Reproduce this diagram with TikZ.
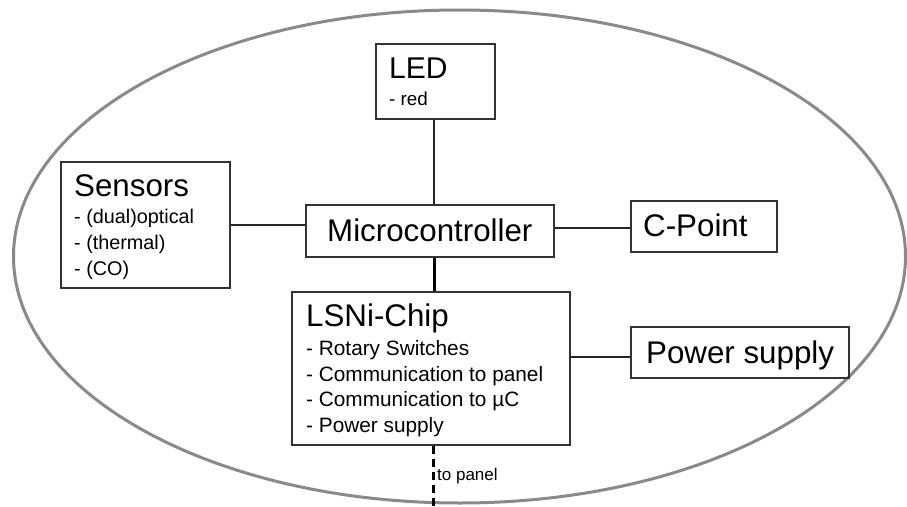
\documentclass[tikz,border=0pt]{standalone}
\usepackage{fontspec}
\setmainfont{Liberation Sans}
\usetikzlibrary{calc}
\definecolor{ringgray}{HTML}{8A8A8A}
\definecolor{boxline}{HTML}{333333}
\tikzset{
  box/.style={draw=boxline, line width=1.3pt, rectangle, inner sep=0pt},
  big/.style={anchor=base west, inner sep=0pt, font=\fontsize{31.3}{36}\selectfont},
  small/.style={anchor=base west, inner sep=0pt, font=\fontsize{20.8}{24}\selectfont},
  tiny/.style={anchor=base west, inner sep=0pt, font=\fontsize{17}{20}\selectfont},
  conn/.style={draw=black!85, line width=1.3pt},
  thickconn/.style={draw=black, line width=3pt},
  dashconn/.style={draw=black, line width=3pt, dash pattern=on 8pt off 5pt},
}
\begin{document}
\begin{tikzpicture}[x=1pt,y=-1pt]
\useasboundingbox[fill=white] (0,0) rectangle (907,506);
% enclosing ellipse
\draw[ringgray, line width=3pt] (459.5,256.5) ellipse [x radius=446pt, y radius=246.5pt];

% boxes
\node[box, minimum width=119pt, minimum height=75pt]  (led)    at (435.5,81.5) {};
\node[box, minimum width=169pt, minimum height=126pt] (sensors) at (145.5,225) {};
\node[box, minimum width=248pt, minimum height=52pt]  (micro)  at (430,231) {};
\node[box, minimum width=146pt, minimum height=51pt]  (cpoint) at (704,226.5) {};
\node[box, minimum width=278pt, minimum height=153pt] (lsni)   at (431,368.5) {};
\node[box, minimum width=218pt, minimum height=51pt]  (power)  at (740,352.5) {};

% texts
\node[big, font=\fontsize{30}{36}\selectfont] (ledt) at (389,78) {LED};
\node[small, font=\fontsize{18.8}{24}\selectfont] (ledi) at (389,105) {- red};

\node[big]   (sent)  at (74,196)  {Sensors};
\node[small, font=\fontsize{19.8}{24}\selectfont] (sen1) at (74,223) {- (dual)optical};
\node[small, font=\fontsize{19.8}{24}\selectfont] (sen2) at (74,249) {- (thermal)};
\node[small, font=\fontsize{19.8}{24}\selectfont] (sen3) at (74,275) {- (CO)};

\node[big]   (microt) at (327,241) {Microcontroller};
\node[big]   (cpt)    at (643,236) {C-Point};
\node[big]   (powt)   at (646,363) {Power supply};

\node[big]   (lsnit) at (306,326) {LSNi-Chip};
\node[small] (lsn1)  at (306,355) {- Rotary Switches};
\node[small] (lsn2)  at (306,381) {- Communication to panel};
\node[small] (lsn3)  at (306,406) {- Communication to µC};
\node[small] (lsn4)  at (306,432) {- Power supply};

% connector end points
\coordinate (cpin)  at ($(cpoint.west)+(0,1.5)$);
\coordinate (pwin)  at ($(power.west)+(0,4.5)$);
\coordinate (ledout) at ($(led.south)+(-1.5,0)$);
\coordinate (micout) at ($(micro.south)+(4,0)$);
\coordinate (lsnout) at ($(lsni.south)+(2,0)$);
\coordinate (panelend) at (433,506);

% connectors
\draw[conn] (sensors.east) -- (sensors.east -| micro.west);
\draw[conn] (ledout) -- (ledout |- micro.north);
\draw[conn] (micro.east |- cpin) -- (cpin);
\draw[thickconn] (micout) -- (micout |- lsni.north);
\draw[conn] (lsni.east |- pwin) -- (pwin);
\draw[dashconn] (lsnout) -- (panelend);
\node[tiny] (topanel) at (437,480) {to panel};
\end{tikzpicture}
\end{document}
